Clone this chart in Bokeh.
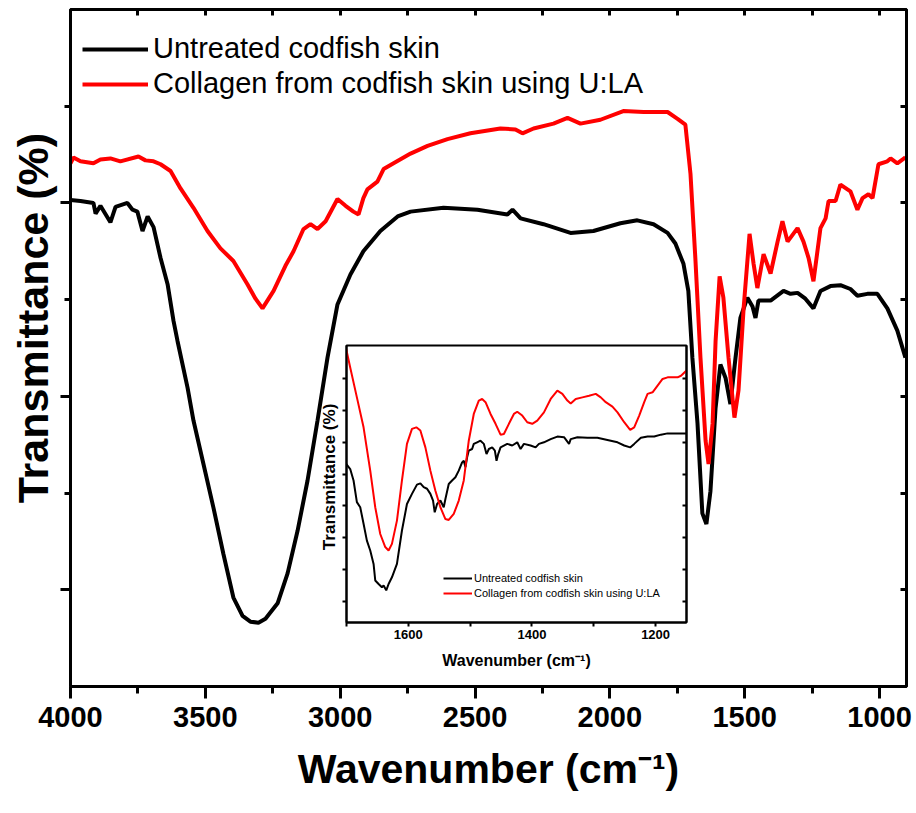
from bokeh.plotting import figure
from bokeh.models import FixedTicker, LinearAxis, Range1d, Legend, LegendItem
from bokeh.layouts import column
from bokeh.embed import file_html
from bokeh.resources import INLINE

FONT = "Liberation Sans"
NBSP = "\u00a0"

# ---------------- main spectrum data ----------------
untreated_wn = [4000, 3963, 3915, 3907, 3889, 3852, 3833, 3789, 3770, 3752, 3733, 3714, 3692, 3666,
                3640, 3618, 3603, 3566, 3544, 3507, 3470, 3433, 3396, 3362, 3333, 3303, 3277, 3232,
                3195, 3158, 3121, 3084, 3047, 3010, 2962, 2914, 2851, 2787, 2739, 2617, 2491, 2380,
                2361, 2331, 2246, 2146, 2061, 1961, 1898, 1838, 1786, 1757, 1727, 1709, 1694, 1675,
                1657, 1642, 1627, 1608, 1590, 1571, 1553, 1534, 1516, 1490, 1471, 1460, 1449, 1404,
                1356, 1330, 1304, 1275, 1245, 1219, 1182, 1145, 1108, 1082, 1045, 1008, 971, 934, 904]
untreated_t = [50.3, 50.2, 50.0, 48.9, 49.7, 48.0, 49.6, 50.0, 49.3, 49.1, 47.1, 48.6, 47.5, 44.3,
               41.6, 37.8, 35.7, 30.9, 27.5, 23.0, 18.5, 13.7, 9.2, 7.3, 6.7, 6.6, 7.0, 8.6,
               11.7, 16.1, 21.3, 27.5, 34.0, 39.5, 42.6, 45.0, 47.1, 48.6, 49.1, 49.5, 49.3, 48.8,
               49.3, 48.4, 47.8, 46.9, 47.1, 47.9, 48.2, 47.8, 46.9, 45.8, 43.7, 40.9, 34.0, 27.2,
               17.9, 16.8, 20.2, 28.8, 33.3, 31.9, 29.2, 34.0, 38.1, 40.2, 39.3, 38.1, 39.9, 39.9,
               40.9, 40.6, 40.7, 40.1, 39.1, 40.9, 41.4, 41.5, 41.1, 40.4, 40.6, 40.6, 39.1, 36.8, 34.0]

collagen_wn = [4000, 3989, 3963, 3915, 3889, 3852, 3815, 3748, 3722, 3692, 3666, 3629, 3592, 3544,
               3492, 3444, 3396, 3344, 3314, 3288, 3247, 3203, 3173, 3136, 3110, 3084, 3054, 3010,
               2980, 2951, 2932, 2914, 2899, 2862, 2839, 2802, 2739, 2676, 2602, 2517, 2406, 2350,
               2324, 2283, 2209, 2157, 2109, 2035, 1950, 1875, 1786, 1749, 1720, 1701, 1683, 1664,
               1645, 1634, 1619, 1608, 1593, 1579, 1560, 1538, 1523, 1504, 1482, 1467, 1453, 1430,
               1404, 1378, 1360, 1341, 1304, 1282, 1263, 1245, 1219, 1200, 1189, 1163, 1145, 1108,
               1082, 1063, 1041, 1026, 1004, 971, 959, 934, 904]
collagen_t = [54.1, 54.7, 54.3, 54.1, 54.5, 54.6, 54.3, 54.8, 54.4, 54.3, 54.0, 53.3, 51.5, 49.5,
              47.1, 45.3, 44.0, 41.6, 40.1, 39.1, 40.9, 43.5, 45.0, 47.3, 47.8, 47.3, 48.1, 50.4,
              49.7, 49.1, 48.8, 50.5, 51.4, 52.2, 53.5, 54.1, 55.1, 55.9, 56.6, 57.2, 57.7, 57.6,
              57.2, 57.7, 58.2, 58.8, 58.2, 58.6, 59.5, 59.4, 59.4, 58.7, 58.1, 53.0, 44.3, 34.0,
              25.4, 23.0, 27.2, 35.7, 42.4, 40.2, 34.0, 27.8, 30.6, 39.1, 46.8, 43.7, 41.2, 44.7,
              42.7, 46.0, 48.1, 46.0, 47.4, 46.0, 44.3, 41.9, 47.4, 48.4, 50.2, 50.2, 51.9, 51.2,
              49.3, 50.5, 50.9, 50.5, 54.0, 54.3, 54.6, 54.1, 54.7]

# ---------------- inset (amide region) data ----------------
in_untreated_wn = [1700.5, 1694.0, 1688.6, 1683.2, 1677.8, 1672.4, 1667.0, 1661.6, 1656.2, 1653.5,
                   1648.1, 1642.7, 1640.0, 1635.7, 1631.9, 1626.5, 1618.4, 1610.3, 1602.2, 1594.1,
                   1586.0, 1580.5, 1575.1, 1569.7, 1564.3, 1560.0, 1557.3, 1553.5, 1548.1, 1542.7,
                   1540.0, 1534.6, 1529.2, 1523.8, 1518.4, 1513.0, 1510.3, 1507.5, 1504.9, 1502.2,
                   1496.8, 1494.1, 1488.7, 1483.3, 1477.8, 1473.5, 1469.7, 1464.3, 1460.0, 1457.3,
                   1454.6, 1450.8, 1440.0, 1431.9, 1423.8, 1418.4, 1413.0, 1402.2, 1394.1, 1388.7,
                   1380.6, 1369.7, 1358.9, 1348.1, 1340.0, 1337.3, 1326.5, 1310.3, 1294.1, 1277.9,
                   1261.6, 1250.8, 1241.1, 1234.6, 1223.8, 1213.0, 1202.2, 1191.4, 1180.6, 1164.4, 1149.2]
in_untreated_t = [5.32, 5.16, 4.80, 4.12, 3.96, 3.44, 2.91, 2.60, 2.18, 1.66,
                  1.55, 1.45, 1.50, 1.35, 1.55, 1.76, 2.18, 3.23, 4.06, 4.38,
                  4.67, 4.71, 4.59, 4.54, 4.38, 4.17, 3.80, 4.06, 4.17, 3.96,
                  4.22, 4.69, 4.80, 4.90, 5.11, 5.37, 5.42, 5.22, 5.53, 5.74,
                  5.79, 5.95, 6.00, 6.05, 5.95, 5.63, 5.79, 5.84, 5.74, 5.42,
                  5.63, 5.84, 5.95, 5.90, 6.00, 5.79, 5.95, 5.90, 5.84, 5.95,
                  6.00, 6.10, 6.18, 6.16, 5.95, 6.10, 6.16, 6.14, 6.14, 6.07,
                  6.00, 5.90, 5.84, 5.95, 6.14, 6.18, 6.18, 6.24, 6.28, 6.28, 6.28]

in_collagen_wn = [1700.5, 1694.0, 1683.2, 1672.4, 1661.6, 1653.5, 1645.4, 1637.3, 1631.9, 1626.5,
                  1618.4, 1610.3, 1602.2, 1594.1, 1587.0, 1580.5, 1572.4, 1564.3, 1556.2, 1548.1,
                  1540.0, 1534.6, 1526.5, 1518.4, 1510.3, 1502.2, 1494.1, 1486.0, 1480.6, 1475.1,
                  1467.0, 1458.9, 1450.8, 1445.4, 1437.3, 1429.2, 1423.8, 1415.7, 1407.6, 1399.5,
                  1391.4, 1380.6, 1369.7, 1358.9, 1350.8, 1342.7, 1337.3, 1329.2, 1318.4, 1307.6,
                  1296.8, 1288.7, 1280.6, 1269.8, 1261.6, 1250.8, 1241.1, 1234.6, 1226.5, 1218.4,
                  1213.0, 1204.9, 1196.8, 1188.7, 1180.6, 1164.4, 1158.9, 1149.2]
in_collagen_t = [8.93, 8.35, 7.41, 6.47, 5.11, 3.96, 3.12, 2.71, 2.60, 2.81,
                 3.54, 4.80, 5.95, 6.42, 6.47, 6.37, 5.84, 5.11, 4.48, 3.96,
                 3.59, 3.56, 3.75, 4.17, 4.80, 6.05, 6.89, 7.31, 7.36, 7.26,
                 6.89, 6.58, 6.24, 6.26, 6.58, 6.89, 6.96, 6.84, 6.63, 6.58,
                 6.68, 6.94, 7.36, 7.62, 7.52, 7.31, 7.22, 7.36, 7.41, 7.46,
                 7.52, 7.41, 7.26, 7.12, 6.94, 6.63, 6.39, 6.47, 6.84, 7.26,
                 7.52, 7.57, 7.78, 7.99, 8.04, 8.04, 8.09, 8.27]

# ---------------- ticks / labels ----------------
main_x_major = [4000, 3500, 3000, 2500, 2000, 1500, 1000]
main_x_minor = [3750, 3250, 2750, 2250, 1750, 1250]
main_top_ticks = [3750, 3500, 3250, 3000, 2750, 2500, 2250, 2000, 1750, 1500, 1250, 1000]
main_y_major = [10, 30, 50]
main_y_minor = [20, 40, 60]
main_right_ticks = [10, 20, 30, 40, 50, 60]

inset_x_major = [1600, 1400, 1200]
inset_x_minor = [1700, 1500, 1300]
inset_y_ticks = [1, 2, 3, 4, 5, 6, 7, 8]

label_untreated = "Untreated codfish skin"
label_collagen = "Collagen from codfish skin using U:LA"
x_title = "Wavenumber (cm\u207b\u00b9)"
y_title = "Transmittance (%)"


def hide_labels(ax):
    ax.major_label_text_color = None
    ax.major_label_text_font_size = "1px"
    ax.major_label_standoff = 0


# ================= main figure =================
p = figure(width=914, height=808, x_range=Range1d(4000, 900), y_range=Range1d(0, 70),
           output_backend="svg", toolbar_location=None,
           min_border_left=70, min_border_right=8, min_border_top=9, min_border_bottom=122)
p.grid.visible = False
p.outline_line_color = "black"
p.outline_line_width = 3

r_black = p.line(untreated_wn, untreated_t, line_color="black", line_width=4)
r_red = p.line(collagen_wn, collagen_t, line_color="#ff0000", line_width=4)

xa = p.xaxis[0]
xa.ticker = FixedTicker(ticks=main_x_major, minor_ticks=main_x_minor)
xa.axis_line_width = 3
xa.major_tick_line_width = 3
xa.minor_tick_line_width = 3
xa.major_tick_out = 12
xa.major_tick_in = 0
xa.minor_tick_out = 7
xa.minor_tick_in = 0
xa.major_label_text_font = FONT
xa.major_label_text_font_style = "bold"
xa.major_label_text_font_size = "29px"
xa.major_label_text_color = "black"
xa.major_label_standoff = 8
xa.axis_label = x_title
xa.axis_label_text_font = FONT
xa.axis_label_text_font_style = "bold"
xa.axis_label_text_font_size = "41px"
xa.axis_label_text_color = "black"
xa.axis_label_standoff = 16

ya = p.yaxis[0]
ya.ticker = FixedTicker(ticks=main_y_major, minor_ticks=main_y_minor)
ya.axis_line_width = 3
ya.major_tick_line_width = 3
ya.minor_tick_line_width = 3
ya.major_tick_out = 10
ya.major_tick_in = 0
ya.minor_tick_out = 6
ya.minor_tick_in = 0
hide_labels(ya)
ya.axis_label = NBSP * 5 + y_title
ya.axis_label_text_font = FONT
ya.axis_label_text_font_style = "bold"
ya.axis_label_text_font_size = "43px"
ya.axis_label_text_color = "black"
ya.axis_label_standoff = 4

top_ax = LinearAxis(ticker=FixedTicker(ticks=main_top_ticks), major_tick_in=6, major_tick_out=0,
                    minor_tick_in=0, minor_tick_out=0, axis_line_width=3, major_tick_line_width=3)
hide_labels(top_ax)
p.add_layout(top_ax, "above")
right_ax = LinearAxis(ticker=FixedTicker(ticks=main_right_ticks), major_tick_in=6, major_tick_out=0,
                      minor_tick_in=0, minor_tick_out=0, axis_line_width=3, major_tick_line_width=3)
hide_labels(right_ax)
p.add_layout(right_ax, "right")

legend = Legend(items=[LegendItem(label=label_untreated, renderers=[r_black]),
                       LegendItem(label=label_collagen, renderers=[r_red])],
                location=(12, 586), glyph_width=66, glyph_height=32, label_height=32, spacing=2,
                padding=0, margin=0, border_line_color=None, background_fill_alpha=0,
                label_text_font=FONT, label_text_font_size="29px", label_text_color="black",
                label_standoff=5)
p.add_layout(legend)

# ================= inset figure =================
q = figure(width=418, height=333, x_range=Range1d(1700, 1150), y_range=Range1d(0.34, 9.04),
           output_backend="svg", toolbar_location=None,
           min_border_left=70, min_border_right=8, min_border_top=2, min_border_bottom=54)
q.grid.visible = False
q.outline_line_color = "black"
q.outline_line_width = 2
q.border_fill_color = None
q.background_fill_color = "white"

q_black = q.line(in_untreated_wn, in_untreated_t, line_color="black", line_width=2)
q_red = q.line(in_collagen_wn, in_collagen_t, line_color="#ff0000", line_width=2)

qx = q.xaxis[0]
qx.ticker = FixedTicker(ticks=inset_x_major, minor_ticks=inset_x_minor)
qx.axis_line_width = 2
qx.major_tick_line_width = 2
qx.minor_tick_line_width = 2
qx.major_tick_out = 4
qx.major_tick_in = 0
qx.minor_tick_out = 4
qx.minor_tick_in = 0
qx.major_label_text_font = FONT
qx.major_label_text_font_style = "bold"
qx.major_label_text_font_size = "13px"
qx.major_label_text_color = "black"
qx.major_label_standoff = 3
qx.axis_label = x_title
qx.axis_label_text_font = FONT
qx.axis_label_text_font_style = "bold"
qx.axis_label_text_font_size = "16px"
qx.axis_label_text_color = "black"
qx.axis_label_standoff = 10

qy = q.yaxis[0]
qy.ticker = FixedTicker(ticks=inset_y_ticks)
qy.axis_line_width = 2
qy.major_tick_line_width = 2
qy.major_tick_out = 4
qy.major_tick_in = 0
qy.minor_tick_out = 0
qy.minor_tick_in = 0
hide_labels(qy)
qy.axis_label = NBSP * 3 + y_title
qy.axis_label_text_font = FONT
qy.axis_label_text_font_style = "bold"
qy.axis_label_text_font_size = "17px"
qy.axis_label_text_color = "black"
qy.axis_label_standoff = 4

q_right = LinearAxis(ticker=FixedTicker(ticks=inset_y_ticks), major_tick_in=4, major_tick_out=0,
                     minor_tick_in=0, minor_tick_out=0, axis_line_width=2, major_tick_line_width=2)
hide_labels(q_right)
q.add_layout(q_right, "right")

q_legend = Legend(items=[LegendItem(label=label_untreated, renderers=[q_black]),
                         LegendItem(label=label_collagen, renderers=[q_red])],
                  location=(97, 23), glyph_width=29, glyph_height=12, label_height=12, spacing=3,
                  padding=0, margin=0, border_line_color=None, background_fill_alpha=0,
                  label_text_font=FONT, label_text_font_size="11px", label_text_color="black",
                  label_standoff=2)
q.add_layout(q_legend)

# overlay the inset on the main plot
q.margin = (-465, 0, 0, 276)

layout = column(p, q)
open("out.html", "w").write(file_html(layout, INLINE))
